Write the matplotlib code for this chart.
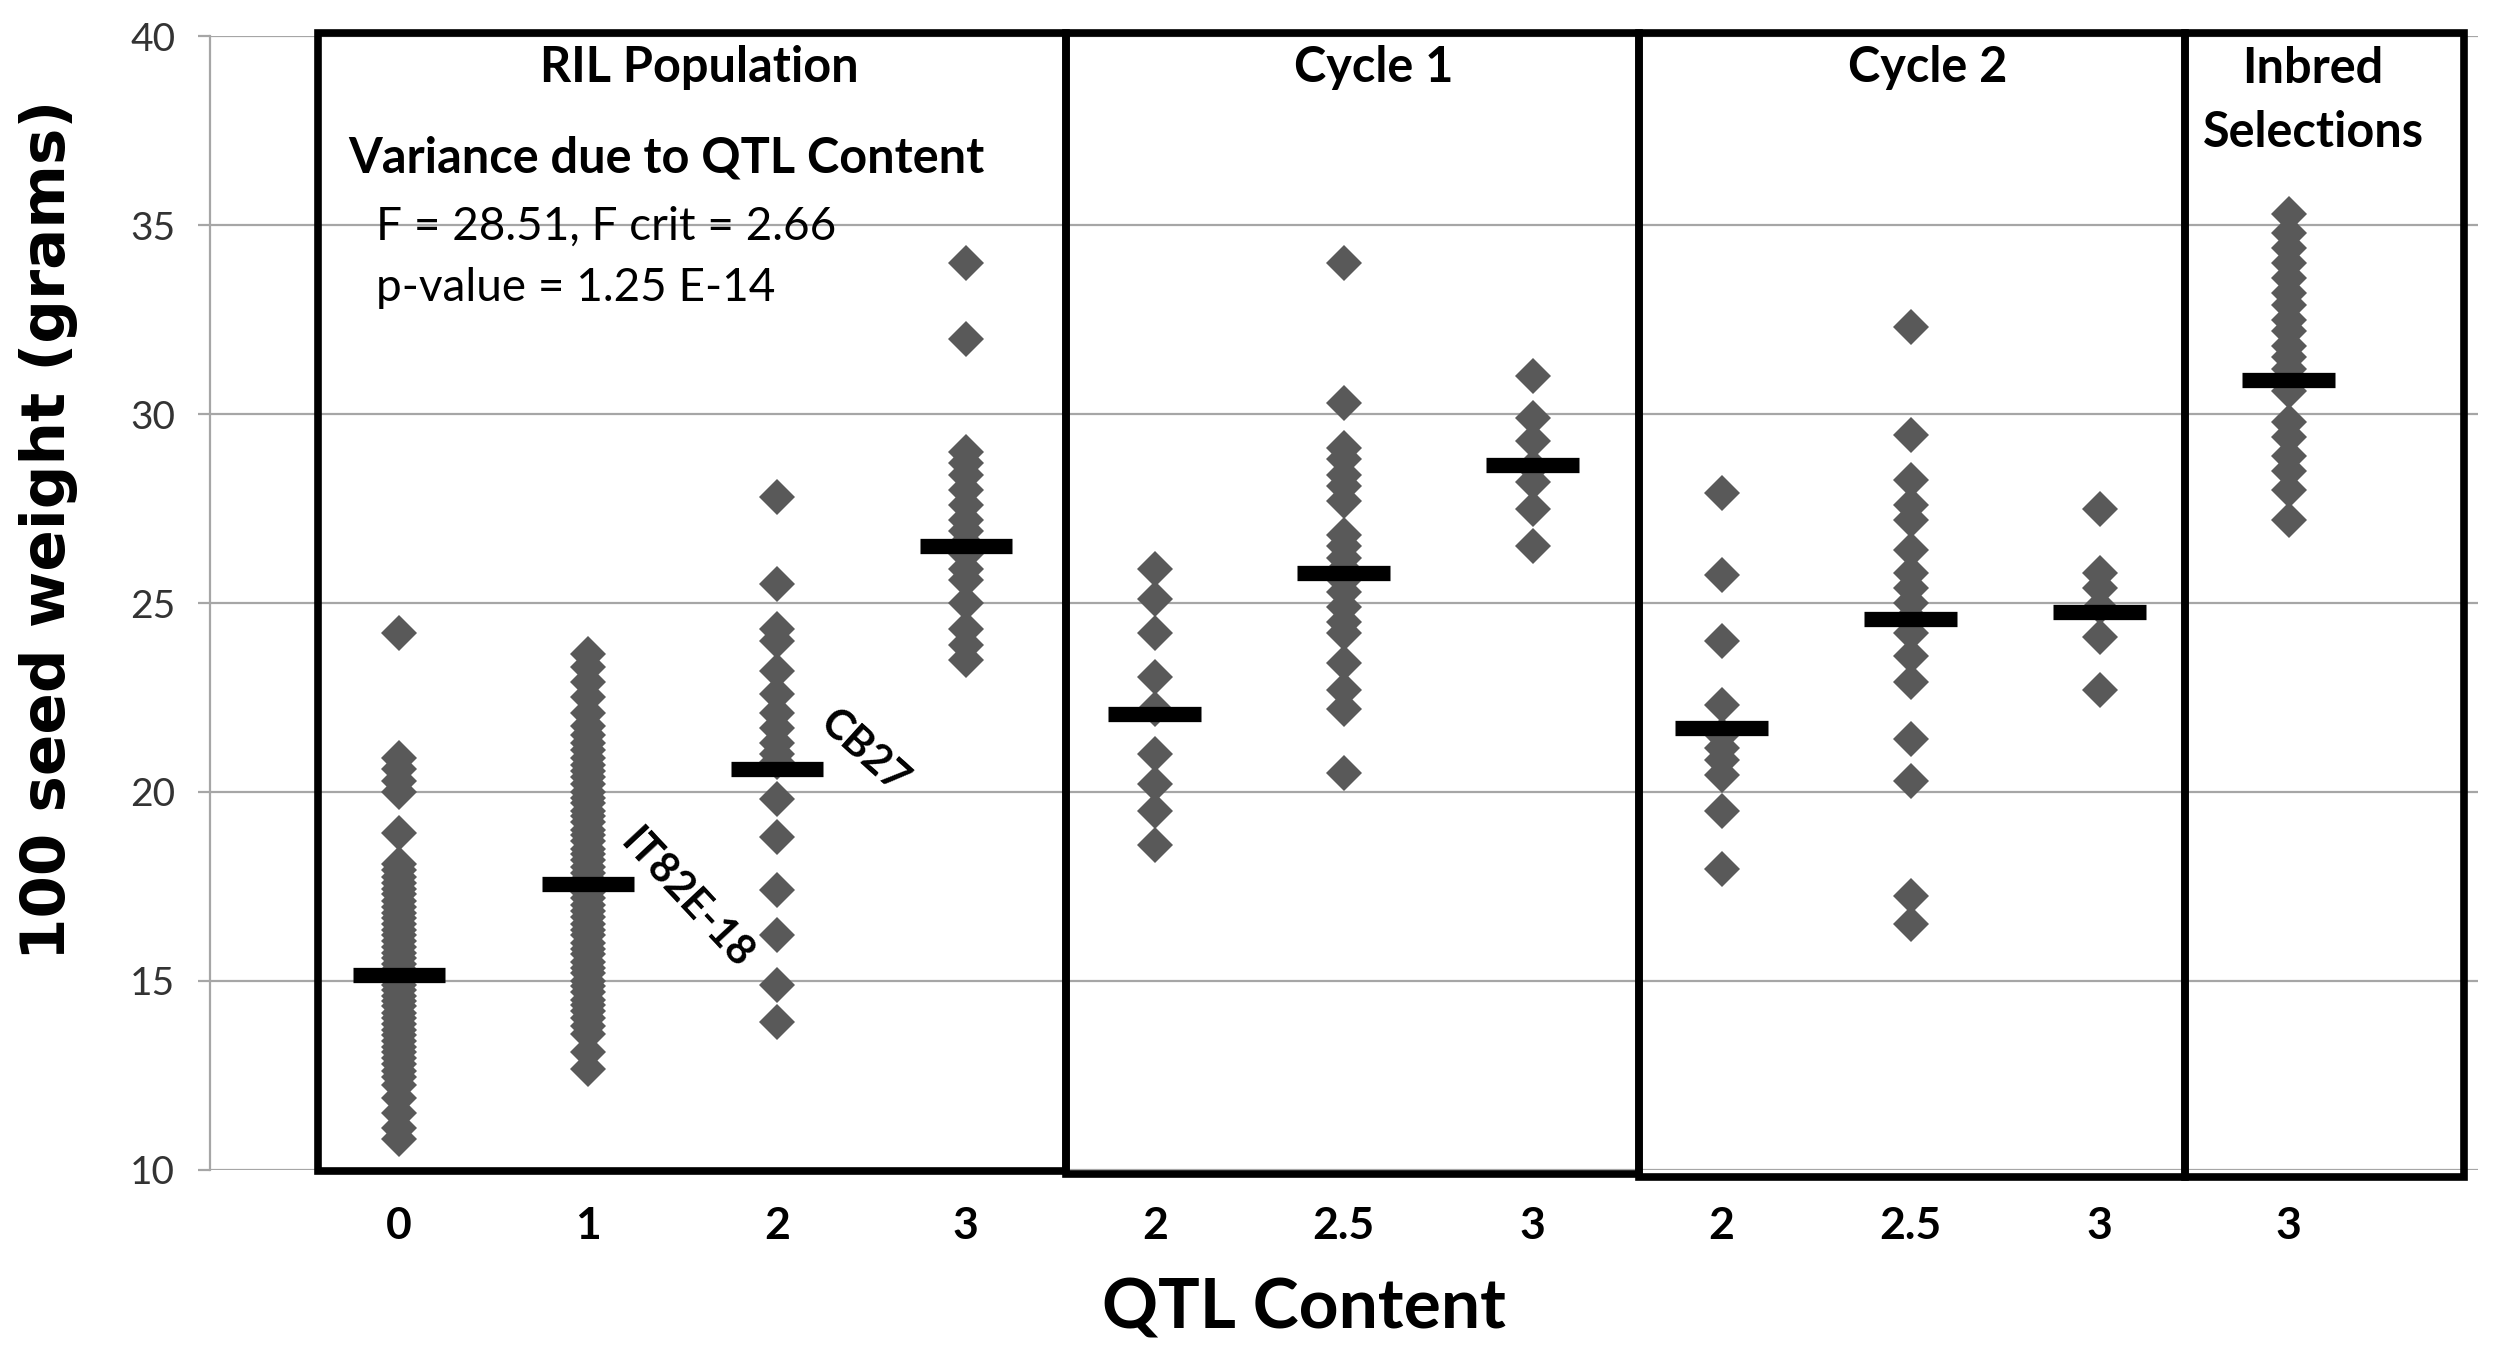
import matplotlib.pyplot as plt
from matplotlib.patches import Rectangle

# 100 seed weight (grams) for each group
ril_0 = [24.2, 20.9, 20.6, 20.3, 20.0, 18.9, 18.1, 17.92, 17.75, 17.6, 17.42, 17.3,
         17.12, 16.95, 16.8, 16.66, 16.5, 16.34, 16.2, 16.05, 15.9, 15.74, 15.6,
         15.45, 15.3, 15.2, 15.05, 14.9, 14.75, 14.6, 14.45, 14.32, 14.15, 14.0,
         13.85, 13.7, 13.55, 13.4, 13.24, 13.1, 12.95, 12.8, 12.62, 12.45, 12.25,
         11.9, 11.5, 11.1, 10.8]
ril_1 = [23.65, 23.3, 22.9, 22.5, 22.1, 21.75, 21.5, 21.3, 21.1, 20.9, 20.7, 20.55,
         20.4, 20.2, 20.0, 19.85, 19.7, 19.5, 19.35, 19.2, 19.0, 18.85, 18.7, 18.5,
         18.35, 18.2, 18.0, 17.85, 17.7, 17.5, 17.35, 17.2, 17.0, 16.85, 16.7,
         16.5, 16.35, 16.2, 16.0, 15.85, 15.7, 15.5, 15.35, 15.2, 15.0, 14.85,
         14.7, 14.5, 14.35, 14.2, 14.0, 13.8, 13.6, 13.1, 12.65]
ril_2 = [27.8, 25.5, 24.3, 24.0, 23.2, 22.6, 22.1, 21.7, 21.3, 21.0, 20.8, 19.8,
         18.8, 17.4, 16.2, 14.9, 13.9]
ril_3 = [34.0, 32.0, 29.0, 28.7, 28.4, 28.0, 27.6, 27.2, 26.9, 26.6, 26.3, 25.9,
         25.6, 25.0, 24.3, 23.9, 23.5]
c1_2 = [25.9, 25.1, 24.2, 23.05, 22.2, 21.0, 20.2, 19.5, 18.6]
c1_25 = [34.0, 30.3, 29.1, 28.8, 28.4, 28.1, 27.7, 26.8, 26.5, 26.2, 25.9, 25.6,
         25.3, 24.9, 24.5, 24.2, 23.4, 22.7, 22.2, 20.5]
c1_3 = [31.0, 29.9, 29.3, 28.6, 28.2, 27.5, 26.5]
c2_2 = [27.9, 25.75, 24.0, 22.3, 21.5, 21.15, 20.85, 20.45, 19.5, 17.95]
c2_25 = [32.3, 29.45, 28.25, 27.6, 27.2, 26.4, 25.8, 25.4, 25.0, 24.6, 24.2, 23.6,
         22.9, 21.4, 20.3, 17.25, 16.5]
c2_3 = [27.5, 25.8, 25.4, 24.9, 24.1, 22.7]
inbred = [35.3, 34.8, 34.4, 34.0, 33.6, 33.2, 32.9, 32.5, 32.2, 31.8, 31.5, 31.2,
          30.6, 29.8, 29.4, 28.9, 28.5, 28.0, 27.2]

groups = [ril_0, ril_1, ril_2, ril_3, c1_2, c1_25, c1_3, c2_2, c2_25, c2_3, inbred]
means = [15.15, 17.55, 20.6, 26.5, 22.05, 25.8, 28.65, 21.7, 24.57, 24.77, 30.9]
tick_labels = ['0', '1', '2', '3', '2', '2.5', '3', '2', '2.5', '3', '3']

# section boxes (left, right) in category units
boxes = [(-0.43, 3.53), (3.53, 6.56), (6.56, 9.45), (9.45, 10.93)]
box_bottoms = [9.95, 9.87, 9.8, 9.8]

FONT = 'Lato'

fig = plt.figure(figsize=(25, 13.49), dpi=100)
ax = fig.add_axes([0.084, 0.133, 0.907, 0.84])

for i, vals in enumerate(groups):
    ax.plot([i] * len(vals), vals, 'D', color='#595959', ms=18.5, mew=0, zorder=3)
ax.hlines(means, [i - 0.245 for i in range(11)], [i + 0.245 for i in range(11)],
          color='black', lw=11, zorder=4, capstyle='butt')

for (l, r), b in zip(boxes, box_bottoms):
    ax.add_patch(Rectangle((l, b), r - l, 40.1 - b, fill=False, ec='black',
                           lw=5.5, zorder=5, clip_on=False))

ax.set_xlim(-1, 11)
ax.set_ylim(10, 40)
ax.set_yticks(range(10, 41, 5))
ax.grid(axis='y', color='#a6a6a6', lw=1.6)
ax.set_axisbelow(True)
for s in ['top', 'right', 'bottom']:
    ax.spines[s].set_visible(False)
ax.spines['left'].set_color('#a6a6a6')
ax.spines['left'].set_linewidth(1.6)
ax.tick_params(axis='y', length=9, width=1.6, color='#a6a6a6', pad=16,
               labelsize=28, labelcolor='#333333')
ax.set_xticks(range(11))
ax.set_xticklabels(tick_labels, fontsize=32, fontweight='bold', family=FONT)
ax.tick_params(axis='x', length=0, pad=26)
for t in ax.get_yticklabels():
    t.set_family(FONT)

ax.text(1.59, 39.18, 'RIL Population', ha='center', va='center', fontsize=35,
        fontweight='bold', family=FONT)
ax.text(5.16, 39.18, 'Cycle 1', ha='center', va='center', fontsize=35,
        fontweight='bold', family=FONT)
ax.text(8.09, 39.18, 'Cycle 2', ha='center', va='center', fontsize=35,
        fontweight='bold', family=FONT)
ax.text(10.13, 38.3, 'Inbred\nSelections', ha='center', va='center', fontsize=35,
        fontweight='bold', family=FONT, linespacing=1.5)
ax.text(-0.27, 36.77, 'Variance due to QTL Content', ha='left', va='center',
        fontsize=35, fontweight='bold', family=FONT)
ax.text(-0.12, 34.97, 'F = 28.51, F crit = 2.66', ha='left', va='center',
        fontsize=33, family=FONT)
ax.text(-0.12, 33.33, 'p-value = 1.25 E-14', ha='left', va='center',
        fontsize=33, family=FONT)
ax.text(1.52, 17.17, 'IT82E-18', ha='center', va='center', fontsize=30,
        fontweight='bold', rotation=-47, family=FONT, rotation_mode='anchor')
ax.text(2.46, 21.06, 'CB27', ha='center', va='center', fontsize=30,
        fontweight='bold', rotation=-42, family=FONT, rotation_mode='anchor')

fig.text(0.5216, 0.0297, 'QTL Content', ha='center', va='center', fontsize=50,
         fontweight='bold', family=FONT)
fig.text(0.0195, 0.607, '100 seed weight (grams)', ha='center', va='center',
         fontsize=44, fontweight='bold', rotation=90, family='DejaVu Sans')

fig.savefig('out.png', dpi=100)
